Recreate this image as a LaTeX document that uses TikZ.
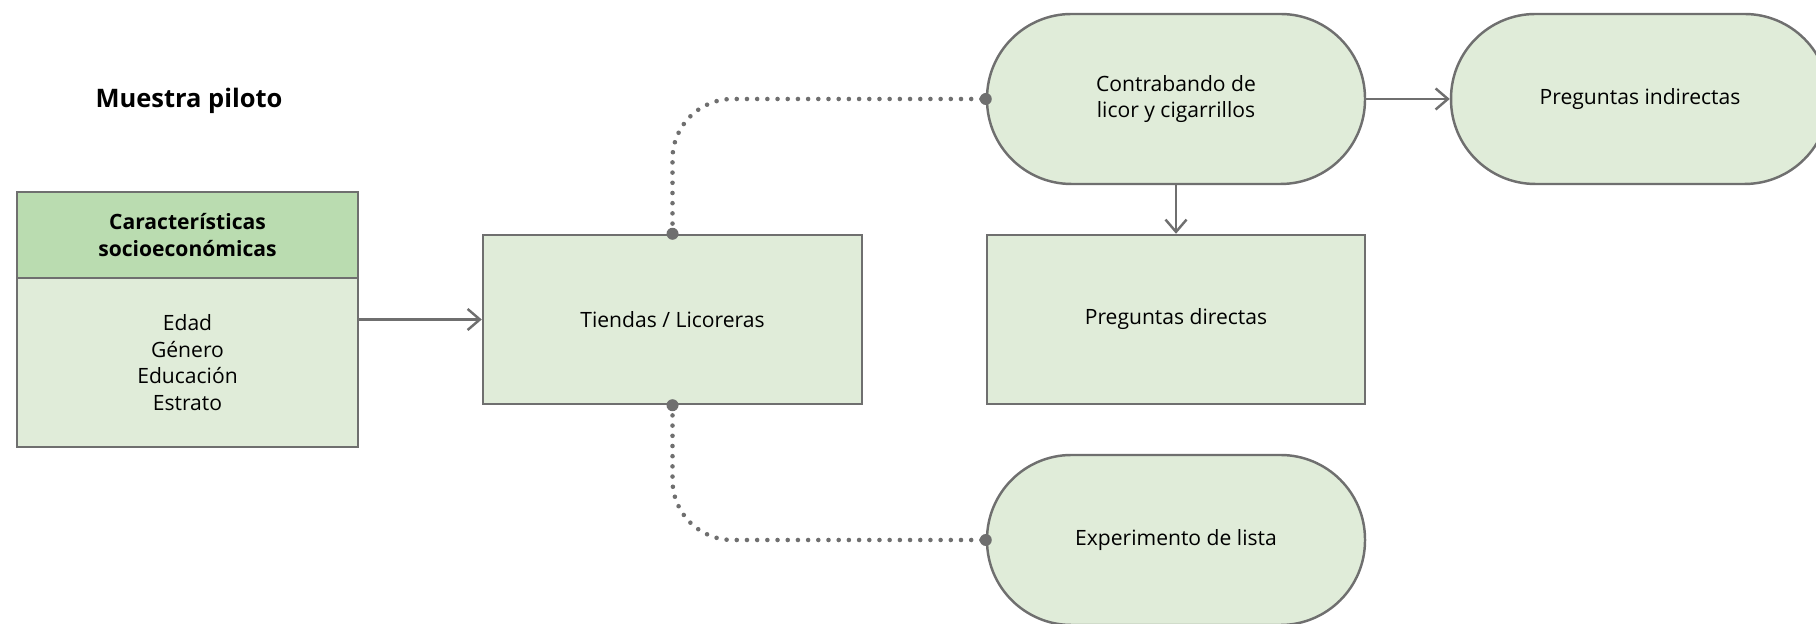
\documentclass[tikz,border=0pt]{standalone}
\usepackage{fontspec}
\setmainfont{Open Sans}
\usetikzlibrary{arrows.meta,positioning}
\definecolor{boxfill}{HTML}{E0ECD9}
\definecolor{headfill}{HTML}{BADCB0}
\definecolor{edge}{HTML}{6F6F6F}

\begin{document}
\begin{tikzpicture}[
  box/.style={rectangle, draw=edge, fill=boxfill, line width=1.4pt, minimum width=7.58cm, minimum height=3.38cm, align=center, font=\fontsize{12}{15.2}\selectfont},
  pill/.style={box, rounded corners=1.69cm, minimum width=7.56cm, minimum height=3.4cm},
  link/.style={draw=edge, line width=1.4pt, -{Straight Barb[length=7pt,width=12pt]}},
  tie/.style={draw=edge, line width=2.6pt, line cap=round, dash pattern=on 0pt off 5.8pt, rounded corners=1.2cm}]
  \useasboundingbox (0,0) rectangle (36.32,12.48);

  \node[font=\bfseries\fontsize{14.5}{17}\selectfont] (title) at (3.78,10.46) {Muestra piloto};

  \node[box, fill=headfill, font=\bfseries\fontsize{12}{15.2}\selectfont, minimum width=6.82cm, minimum height=1.72cm] (socio) at (3.75,7.78) {Características\\socioeconómicas};
  \node[box, minimum width=6.82cm, below=-1.4pt of socio] (vars) {Edad\\Género\\Educación\\Estrato};

  \node[box] (tiendas) at (13.45,6.09) {Tiendas / Licoreras};
  \node[box, minimum width=7.56cm] (directas) at (23.52,6.09) {Preguntas directas};
  \node[pill] (contra) at (23.52,10.5) {Contrabando de\\licor y cigarrillos};
  \node[pill] (indir) at (32.80,10.5) {Preguntas indirectas};
  \node[pill] (lista) at (23.52,1.68) {Experimento de lista};

  \draw[link] (vars.east |- tiendas.west) -- (tiendas.west);
  \draw[link] (contra.east) -- (indir.west);
  \draw[link] (contra.south) -- (directas.north);

  % dotted ties
  \draw[tie] (tiendas.north) |- (contra.west);
  \draw[tie] (tiendas.south) |- (lista.west);
  \fill[edge] (tiendas.north) circle (0.12) (contra.west) circle (0.12);
  \fill[edge] (tiendas.south) circle (0.12) (lista.west) circle (0.12);
\end{tikzpicture}
\end{document}
